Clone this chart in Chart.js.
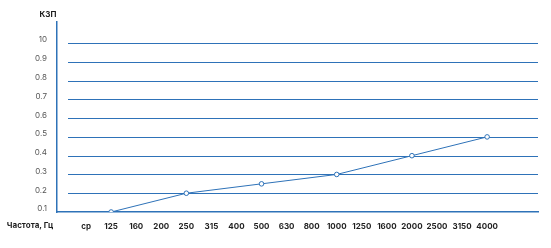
<!DOCTYPE html>
<html>
<head>
<meta charset="utf-8">
<script src="https://cdn.jsdelivr.net/npm/chart.js@4"></script>
<style>
  html, body { margin: 0; padding: 0; background: #fff; }
  #wrap { width: 551px; height: 248px; }
</style>
</head>
<body>
<div id="wrap"><canvas id="myChart"></canvas></div>
<script>
// x categories (first one is the "ср" column)
const freqLabels = ['ср', '125', '160', '200', '250', '315', '400', '500', '630', '800', '1000', '1250', '1600', '2000', '2500', '3150', '4000'];
// measured points
const pointFreqs = ['125', '250', '500', '1000', '2000', '4000'];
const kzpValues = [0.1, 0.2, 0.25, 0.3, 0.4, 0.5];
// y ticks and their printed labels
const yTicks = [0.1, 0.2, 0.3, 0.4, 0.5, 0.6, 0.7, 0.8, 0.9, 1.0];
const yTickLabels = ['0.1', '0.2', '0.3', '0.4', '0.5', '0.6', '0.7', '0.8', '0.9', '10'];

const xTitle = 'Частота, Гц';
const yTitle = 'КЗП';

const blue = '#2e72b8';
const points = pointFreqs.map((f, i) => ({ x: freqLabels.indexOf(f), y: kzpValues[i] }));

const extras = {
  id: 'extras',
  beforeDatasetsDraw(chart) {
    const ctx = chart.ctx;
    const area = chart.chartArea;
    const y = chart.scales.y;
    ctx.save();
    ctx.strokeStyle = blue;
    ctx.lineWidth = 1.2;
    yTicks.forEach(v => {
      if (v === yTicks[0]) return;
      const py = Math.round(y.getPixelForValue(v)) + 0.5;
      ctx.beginPath();
      ctx.moveTo(area.left + 11, py);
      ctx.lineTo(area.right, py);
      ctx.stroke();
    });
    ctx.restore();
  },
  afterDraw(chart) {
    const ctx = chart.ctx;
    ctx.save();
    ctx.fillStyle = '#1e1e1e';
    ctx.textAlign = 'center';
    ctx.textBaseline = 'middle';
    ctx.font = 'bold 8px Inter';
    ctx.fillText(xTitle, 30, 226);
    ctx.fillText(yTitle, 48, 15);
    ctx.restore();
  }
};

const config = {
  type: 'line',
  data: {
    datasets: [{
      data: points,
      borderColor: blue,
      borderWidth: 1,
      pointRadius: 2.3,
      pointBorderWidth: 1,
      pointBackgroundColor: '#fff',
      pointBorderColor: blue,
      tension: 0
    }]
  },
  options: {
    responsive: false,
    animation: false,
    layout: { padding: { top: 22, right: 13, left: 0, bottom: 0 } },
    plugins: { legend: { display: false }, tooltip: { enabled: false } },
    scales: {
      x: {
        type: 'linear',
        min: -1.16,
        max: 18.03,
        afterBuildTicks: s => { s.ticks = freqLabels.map((_, i) => ({ value: i })); },
        afterFit: s => { s.height = 36; },
        grid: { display: false, drawTicks: false },
        border: { display: true, color: blue, width: 1.5 },
        ticks: {
          autoSkip: false,
          maxRotation: 0,
          padding: 10,
          color: '#1e1e1e',
          font: { family: 'Inter', size: 8, weight: 'bold' },
          callback: v => freqLabels[v]
        }
      },
      y: {
        min: 0.1,
        max: 1.112,
        afterBuildTicks: s => { s.ticks = yTicks.map(v => ({ value: v })); },
        afterFit: s => { s.width = 57; },
        grid: { display: false, drawTicks: false },
        border: { display: true, color: blue, width: 1.5 },
        ticks: {
          padding: 10,
          labelOffset: -3,
          color: '#555',
          font: { family: 'Inter', size: 8 },
          callback: (v) => yTickLabels[yTicks.findIndex(t => Math.abs(t - v) < 1e-6)]
        }
      }
    }
  },
  plugins: [extras]
};

const canvas = document.getElementById('myChart');
canvas.width = 551;
canvas.height = 248;
new Chart(canvas, config);
</script>
</body>
</html>
